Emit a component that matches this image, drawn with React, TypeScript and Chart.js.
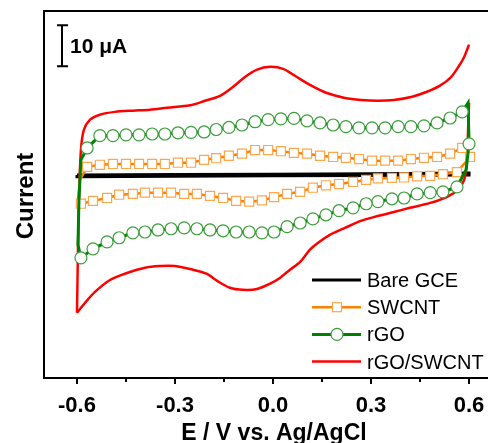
import { useEffect, useRef } from "react";
import { Chart, registerables } from "chart.js";

Chart.register(...registerables);

const FONT = '"Liberation Sans", Arial, Helvetica, sans-serif';

// Axis ticks
const xTickValues = [-0.6, -0.3, 0.0, 0.3, 0.6];
const xTickLabels = ["-0.6", "-0.3", "0.0", "0.3", "0.6"];
const xMinorTicks = [-0.45, -0.15, 0.15, 0.45];
const xTitle = "E / V vs. Ag/AgCl";
const yTitle = "Current";
const scaleBarLabel = "10 \u03bcA";
const scaleBarValue = 10; // μA
const seriesNames = ["Bare GCE", "SWCNT", "rGO", "rGO/SWCNT"];

// Bare GCE (E in V, I in μA relative)
const bareE = [-0.6, -0.3, 0.0, 0.3, 0.6, 0.6, 0.3, 0.0, -0.3, -0.6, -0.6];
const bareI = [0.2, 0.3, 0.4, 0.5, 0.7, 0.2, 0.1, 0.0, -0.1, -0.2, 0.2];

// SWCNT loop
const swcntE = [
  -0.591,
  -0.569, -0.53, -0.49, -0.45, -0.41, -0.37, -0.331, -0.291, -0.251, -0.211,
  -0.174, -0.135, -0.095, -0.055, -0.015, 0.024, 0.064, 0.104, 0.144, 0.184,
  0.223, 0.263, 0.303, 0.343, 0.383, 0.422, 0.462, 0.502, 0.542, 0.579,
  0.603,
  0.563, 0.52, 0.481, 0.441, 0.401, 0.364, 0.321, 0.285, 0.245, 0.202,
  0.162, 0.122, 0.083, 0.043, 0.003, -0.034, -0.073, -0.113, -0.153, -0.193,
  -0.233, -0.272, -0.312, -0.352, -0.392, -0.429, -0.471, -0.508, -0.551, -0.588,
  -0.597, -0.591,
];
const swcntI = [
  -1.0,
  2.2, 2.7, 2.9, 2.9, 2.9, 2.9, 2.9, 3.2, 3.2, 3.9,
  4.3, 4.9, 5.4, 6.3, 6.3, 6.0, 5.6, 5.4, 4.9, 4.6,
  4.4, 4.1, 3.7, 3.7, 3.7, 4.1, 4.4, 4.6, 5.4, 6.8,
  4.6,
  0.9, 0.4, 0.0, -0.1, -0.4, -0.5, -0.6, -1.0, -1.5, -2.0,
  -2.3, -2.9, -3.9, -4.4, -5.2, -6.0, -6.3, -6.1, -5.4, -4.9,
  -4.4, -4.4, -4.1, -4.1, -4.1, -4.4, -4.6, -5.4, -6.1, -6.8,
  -5.9, -1.0,
];
const swcntUnmarked = [0, 62, 63];

// rGO loop
const rgoE = [
  -0.588,
  -0.569, -0.53, -0.49, -0.45, -0.41, -0.37, -0.331, -0.291, -0.251, -0.211,
  -0.174, -0.135, -0.095, -0.055, -0.015, 0.024, 0.064, 0.104, 0.144, 0.184,
  0.223, 0.263, 0.303, 0.343, 0.383, 0.422, 0.462, 0.502, 0.542, 0.579,
  0.597, 0.6, 0.591,
  0.563, 0.52, 0.481, 0.441, 0.401, 0.364, 0.321, 0.285, 0.245, 0.202,
  0.162, 0.122, 0.083, 0.043, 0.003, -0.034, -0.073, -0.113, -0.153, -0.193,
  -0.233, -0.272, -0.312, -0.352, -0.392, -0.429, -0.471, -0.508, -0.551, -0.588,
  -0.597, -0.594, -0.588,
];
const rgoI = [
  3.9,
  6.8, 9.8, 9.8, 10.0, 10.0, 10.2, 10.2, 10.5, 10.6, 10.7,
  11.3, 11.8, 12.4, 13.2, 13.7, 13.9, 14.0, 13.4, 12.9, 12.4,
  12.0, 11.7, 11.7, 11.7, 12.0, 12.0, 12.2, 12.9, 14.1, 15.6,
  17.8, 7.8, 1.5,
  -2.7, -3.9, -4.1, -4.4, -5.4, -5.6, -6.3, -6.8, -7.8, -8.5,
  -9.5, -10.5, -11.5, -12.4, -13.7, -13.9, -13.7, -13.7, -13.4, -13.2,
  -12.9, -12.7, -12.9, -13.2, -13.7, -13.9, -15.1, -16.1, -17.8, -20.0,
  -16.8, -5.9, 3.9,
];
const rgoUnmarked = [0, 31, 33, 64, 65, 66];

// rGO/SWCNT: anodic sweep and cathodic sweep
const hybridAnodicE = [
  -0.6, -0.597, -0.594, -0.588, -0.579, -0.56, -0.53, -0.484, -0.429, -0.377,
  -0.324, -0.254, -0.208, -0.162, -0.122, -0.086, -0.049, -0.009, 0.031, 0.067,
  0.113, 0.165, 0.22, 0.269, 0.321, 0.37, 0.426, 0.471, 0.511, 0.545,
  0.569, 0.585, 0.6,
];
const hybridAnodicI = [
  -33.4, -18.0, -5.9, 6.3, 11.2, 13.7, 14.9, 15.6, 15.9, 16.1,
  16.6, 17.2, 18.3, 19.5, 21.7, 24.1, 25.9, 26.6, 26.1, 24.4,
  22.2, 20.2, 19.0, 18.5, 18.3, 18.5, 19.3, 20.5, 22.0, 24.1,
  26.8, 29.0, 32.0,
];
const hybridCathodicE = [
  0.6, 0.597, 0.594, 0.585, 0.566, 0.533, 0.481, 0.419, 0.37, 0.321,
  0.269, 0.22, 0.174, 0.138, 0.113, 0.083, 0.052, 0.021, -0.009, -0.049,
  -0.092, -0.132, -0.171, -0.202, -0.245, -0.3, -0.346, -0.392, -0.447, -0.499,
  -0.545, -0.576, -0.6,
];
const hybridCathodicI = [
  17.8, 11.2, 3.9, -1.0, -3.4, -5.1, -6.6, -7.8, -8.8, -9.8,
  -11.0, -12.7, -14.4, -16.3, -18.0, -21.0, -22.9, -24.9, -26.3, -27.6,
  -27.8, -27.3, -25.6, -23.9, -22.9, -22.0, -22.0, -22.4, -23.7, -25.4,
  -28.3, -31.0, -33.4,
];

const X_MIN = -0.701;
const X_MAX = 0.658;
const Y_MIN = -49.3;
const Y_MAX = 40.2;

const BLACK = "#000000";
const ORANGE = "#FF8000";
const ORANGE_EDGE = "#FFA64D";
const GREEN = "#008000";
const GREEN_EDGE = "#3A9E3A";
const RED = "#FF0000";

const toPts = (e: number[], i: number[]) => e.map((v, k) => ({ x: v, y: i[k] }));

const decorPlugin = {
  id: "decor",
  afterDraw(chart: any) {
    const { ctx, chartArea: a, scales } = chart;
    const xs = scales.x;
    const ys = scales.y;
    ctx.save();
    ctx.strokeStyle = "#000";
    ctx.fillStyle = "#000";
    ctx.lineWidth = 2;
    // top frame
    ctx.beginPath();
    ctx.moveTo(a.left - 1, a.top);
    ctx.lineTo(chart.width, a.top);
    ctx.stroke();
    // ticks
    xTickValues.forEach((v) => {
      const px = Math.round(xs.getPixelForValue(v));
      ctx.beginPath();
      ctx.moveTo(px, a.bottom);
      ctx.lineTo(px, a.bottom + 6);
      ctx.stroke();
    });
    xMinorTicks.forEach((v) => {
      const px = Math.round(xs.getPixelForValue(v));
      ctx.beginPath();
      ctx.moveTo(px, a.bottom);
      ctx.lineTo(px, a.bottom + 4);
      ctx.stroke();
    });
    // tick labels
    ctx.font = `bold 22px ${FONT}`;
    ctx.textAlign = "center";
    ctx.textBaseline = "alphabetic";
    xTickValues.forEach((v, k) => {
      ctx.fillText(xTickLabels[k], xs.getPixelForValue(v), 412);
    });
    // axis titles
    ctx.font = `bold 23px ${FONT}`;
    ctx.fillText(xTitle, 274, 440);
    ctx.save();
    ctx.translate(33, 196);
    ctx.rotate(-Math.PI / 2);
    ctx.font = `bold 24px ${FONT}`;
    ctx.fillText(yTitle, 0, 0);
    ctx.restore();

    // scale bar
    const yTop = ys.getPixelForValue(Y_MAX - 3.5);
    const yBot = ys.getPixelForValue(Y_MAX - 3.5 - scaleBarValue);
    ctx.lineWidth = 2;
    ctx.beginPath();
    ctx.moveTo(62, yTop);
    ctx.lineTo(62, yBot);
    ctx.moveTo(57, yTop);
    ctx.lineTo(68, yTop);
    ctx.moveTo(57, yBot);
    ctx.lineTo(68, yBot);
    ctx.stroke();
    ctx.font = `bold 21px ${FONT}`;
    ctx.textAlign = "left";
    ctx.fillText(scaleBarLabel, 70, 53);

    // legend
    const colors = [BLACK, ORANGE, GREEN, RED];
    const widths = [3, 2.5, 3, 2.5];
    seriesNames.forEach((name, k) => {
      const y = 280 + k * 27.2;
      ctx.strokeStyle = colors[k];
      ctx.lineWidth = widths[k];
      ctx.beginPath();
      ctx.moveTo(312, y);
      ctx.lineTo(361, y);
      ctx.stroke();
      if (k === 1) {
        ctx.fillStyle = "#fff";
        ctx.strokeStyle = ORANGE_EDGE;
        ctx.lineWidth = 1.2;
        ctx.fillRect(332.5, y - 4.5, 9, 9);
        ctx.strokeRect(332.5, y - 4.5, 9, 9);
      } else if (k === 2) {
        ctx.fillStyle = "#fff";
        ctx.strokeStyle = GREEN_EDGE;
        ctx.lineWidth = 1.2;
        ctx.beginPath();
        ctx.arc(337, y, 6, 0, Math.PI * 2);
        ctx.fill();
        ctx.stroke();
      }
      ctx.fillStyle = "#000";
      ctx.font = `20px ${FONT}`;
      ctx.textAlign = "left";
      ctx.fillText(name, 367, y + 7);
    });
    ctx.restore();
  },
};

export default function App() {
  const ref = useRef<HTMLCanvasElement | null>(null);
  useEffect(() => {
    if (!ref.current) return;
    const chart = new Chart(ref.current, {
      type: "line",
      data: {
        datasets: [
          {
            label: seriesNames[2],
            data: toPts(rgoE, rgoI),
            borderColor: GREEN,
            borderWidth: 3,
            tension: 0,
            pointStyle: "circle",
            pointRadius: (c: any) => (rgoUnmarked.includes(c.dataIndex) ? 0 : 6),
            pointBackgroundColor: "#ffffff",
            pointBorderColor: GREEN_EDGE,
            pointBorderWidth: 1.2,
          },
          {
            label: seriesNames[1],
            data: toPts(swcntE, swcntI),
            borderColor: ORANGE,
            borderWidth: 2.5,
            tension: 0,
            pointStyle: "rect",
            pointRadius: (c: any) => (swcntUnmarked.includes(c.dataIndex) ? 0 : 6.4),
            pointBackgroundColor: "#ffffff",
            pointBorderColor: ORANGE_EDGE,
            pointBorderWidth: 1.2,
          },
          {
            label: seriesNames[3],
            data: toPts(hybridAnodicE, hybridAnodicI),
            borderColor: RED,
            borderWidth: 2.5,
            tension: 0.3,
            pointRadius: 0,
          },
          {
            label: seriesNames[3] + " (reverse)",
            data: toPts(hybridCathodicE, hybridCathodicI),
            borderColor: RED,
            borderWidth: 2.5,
            tension: 0.3,
            pointRadius: 0,
          },
          {
            label: seriesNames[0],
            data: toPts(bareE, bareI),
            borderColor: BLACK,
            borderWidth: 3,
            tension: 0,
            pointRadius: 0,
          },
        ],
      },
      options: {
        animation: false,
        responsive: false,
        events: [],
        layout: { padding: { top: 11, left: 0, right: 0, bottom: 0 } },
        plugins: {
          legend: { display: false },
          tooltip: { enabled: false },
          title: { display: false },
        },
        scales: {
          x: {
            type: "linear",
            position: "bottom",
            min: X_MIN,
            max: X_MAX,
            ticks: { display: false },
            grid: { display: false, drawTicks: false },
            border: { display: true, color: "#000", width: 2 },
            afterFit: (s: any) => {
              s.height = 65;
            },
          },
          y: {
            type: "linear",
            min: Y_MIN,
            max: Y_MAX,
            ticks: { display: false },
            grid: { display: false, drawTicks: false },
            border: { display: true, color: "#000", width: 2 },
            afterFit: (s: any) => {
              s.width = 44;
            },
          },
        },
      },
      plugins: [decorPlugin],
    });
    return () => chart.destroy();
  }, []);
  return (
    <div style={{ position: "absolute", left: 0, top: 0, width: 488, height: 443, background: "#fff" }}>
      <canvas ref={ref} width={488} height={443} />
    </div>
  );
}
